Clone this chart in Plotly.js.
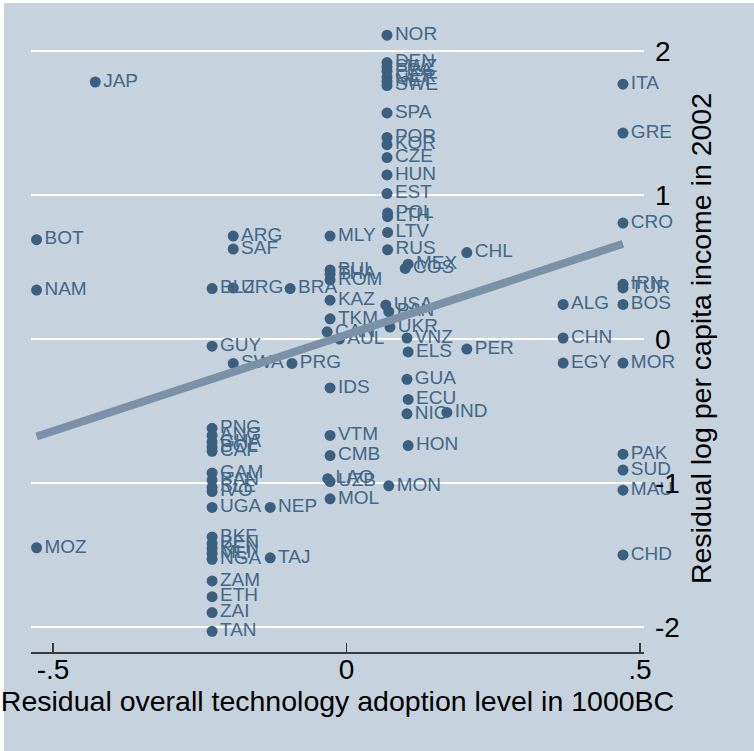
<!DOCTYPE html>
<html>
<head>
<meta charset="utf-8">
<script src="https://cdn.plot.ly/plotly-3.0.1.min.js"></script>
<style>
  html, body { margin: 0; padding: 0; background: #ffffff; }
  #chart { position: absolute; left: 0; top: 0; width: 754px; height: 751px; }
</style>
</head>
<body>
<div id="chart"></div>
<script>
// Country codes (marker labels)
const countries = [
  "NOR","DEN","SWZ","FRA","GER","NET","SWE","SPA","POR","KOR","CZE","HUN","EST",
  "POL","LTH","LTV","RUS","USA","PAN","UKR","MON",
  "CHL","MEX","COS","VNZ","ELS","PER","GUA","ECU","NIC","IND","HON",
  "JAP","BOT","NAM","MOZ",
  "ARG","SAF","BLZ","URG","BRA","GUY","SWA","PRG",
  "MLY","BUL","THA","ROM","KAZ","TKM","CAN","AUL","IDS","VTM","CMB","LAO","UZB","MOL",
  "PNG","ANG","GHA","BOL","CAF","GAM","BAN","SLE","IVO","UGA","NEP",
  "BKF","BEN","KEN","MLI","NGA","TAJ","ZAM","ETH","ZAI","TAN",
  "CRO","IRN","TUR","BOS","ALG","CHN","EGY","MOR","ITA","GRE","PAK","SUD","MAU","CHD"
];
// Residual overall technology adoption level in 1000BC
const techResid = [
  0.069,0.069,0.069,0.069,0.069,0.069,0.069,0.069,0.069,0.069,0.069,0.069,0.069,
  0.070,0.070,0.070,0.070,0.067,0.072,0.074,0.072,
  0.205,0.105,0.100,0.103,0.105,0.205,0.103,0.105,0.103,0.171,0.105,
  -0.428,-0.528,-0.528,-0.528,
  -0.193,-0.193,-0.229,-0.193,-0.096,-0.229,-0.193,-0.093,
  -0.028,-0.028,-0.028,-0.028,-0.028,-0.028,-0.033,-0.012,-0.028,-0.028,-0.028,-0.032,-0.028,-0.028,
  -0.229,-0.229,-0.229,-0.229,-0.229,-0.229,-0.229,-0.229,-0.229,-0.229,-0.130,
  -0.229,-0.229,-0.229,-0.229,-0.229,-0.130,-0.229,-0.229,-0.229,-0.229,
  0.471,0.471,0.471,0.471,0.369,0.369,0.369,0.471,0.471,0.471,0.471,0.471,0.471,0.471
];
// Residual log per capita income in 2002
const incomeResid = [
  2.11,1.92,1.89,1.86,1.82,1.79,1.76,1.57,1.40,1.35,1.26,1.14,1.01,
  0.875,0.85,0.74,0.62,0.236,0.19,0.083,-1.02,
  0.60,0.52,0.49,0.007,-0.09,-0.07,-0.28,-0.42,-0.52,-0.51,-0.74,
  1.785,0.69,0.34,-1.45,
  0.715,0.625,0.35,0.355,0.35,-0.05,-0.17,-0.17,
  0.715,0.48,0.45,0.41,0.27,0.14,0.05,0.0,-0.34,-0.67,-0.81,-0.97,-0.99,-1.11,
  -0.62,-0.67,-0.715,-0.75,-0.78,-0.93,-0.98,-1.03,-1.06,-1.17,-1.17,
  -1.375,-1.42,-1.455,-1.49,-1.53,-1.52,-1.68,-1.79,-1.90,-2.03,
  0.805,0.38,0.355,0.24,0.24,0.007,-0.167,-0.167,1.77,1.43,-0.80,-0.91,-1.05,-1.50
];
// Fitted line coefficients (income = a + b * tech)
const fitIntercept = 0.03;
const fitSlope = 1.34;

const xTickVals = [-0.5, 0, 0.5];
const xTickText = ["-.5", "0", ".5"];
const yTickVals = [-2, -1, 0, 1, 2];
const yTickText = ["-2", "-1", "0", "1", "2"];

const xmin = Math.min(...techResid), xmax = Math.max(...techResid);
const fitX = [xmin, xmax];
const fitY = fitX.map(v => fitIntercept + fitSlope * v);

const FONT = "Liberation Sans, Arial, Helvetica, sans-serif";
const BG = "#C6D2DE";

const W = 754, H = 751;
const M = { l: 31, r: 110, t: 25, b: 99 };
const plotW = W - M.l - M.r, plotH = H - M.t - M.b;
// thin white frame on the top and left edges of the image
const px2x = p => (p - M.l) / plotW;
const px2y = p => (H - M.b - p) / plotH;

const traces = [
  {
    type: "scatter", mode: "markers+text",
    x: techResid, y: incomeResid, text: countries,
    textposition: "middle right",
    marker: { color: "#3b5f7e", size: 11, line: { width: 0 } },
    textfont: { family: FONT, size: 19, color: "#436786" },
    cliponaxis: false, hoverinfo: "text"
  },
  {
    type: "scatter", mode: "lines",
    x: fitX, y: fitY,
    line: { color: "#7b91a8", width: 8 },
    hoverinfo: "skip"
  }
];

const layout = {
  width: W, height: H,
  paper_bgcolor: BG, plot_bgcolor: BG,
  showlegend: false,
  margin: { l: M.l, r: M.r, t: M.t, b: M.b, pad: 0 },
  font: { family: FONT, color: "#000000" },
  shapes: [
    { type: "rect", xref: "paper", yref: "paper", layer: "below",
      x0: px2x(-2), x1: px2x(4), y0: px2y(H + 2), y1: px2y(-2),
      fillcolor: "#ffffff", line: { width: 0 } },
    { type: "rect", xref: "paper", yref: "paper", layer: "below",
      x0: px2x(-2), x1: px2x(W + 2), y0: px2y(3), y1: px2y(-2),
      fillcolor: "#ffffff", line: { width: 0 } }
  ],
  xaxis: {
    range: [-0.5375, 0.5068],
    tickvals: xTickVals, ticktext: xTickText,
    showgrid: false, zeroline: false,
    showline: true, linecolor: "#3a3a3a", linewidth: 1.5,
    ticks: "inside", ticklen: 9, tickcolor: "#3a3a3a", tickwidth: 1.5,
    ticklabelstandoff: -8,
    tickfont: { family: FONT, size: 28, color: "#000000" },
    title: { text: "Residual overall technology adoption level in 1000BC",
             font: { family: FONT, size: 28.5, color: "#000000" }, standoff: 0 }
  },
  yaxis: {
    side: "right",
    range: [-2.174, 2.181],
    tickvals: yTickVals, ticktext: yTickText,
    showgrid: true, gridcolor: "#ffffff", gridwidth: 2,
    zeroline: false, showline: false,
    ticks: "", ticklabelstandoff: 10,
    tickfont: { family: FONT, size: 28, color: "#000000" },
    title: { text: "Residual log per capita income in 2002",
             font: { family: FONT, size: 28.5, color: "#000000" }, standoff: 12 }
  }
};

Plotly.newPlot("chart", traces, layout, { displayModeBar: false, staticPlot: true });
</script>
</body>
</html>
